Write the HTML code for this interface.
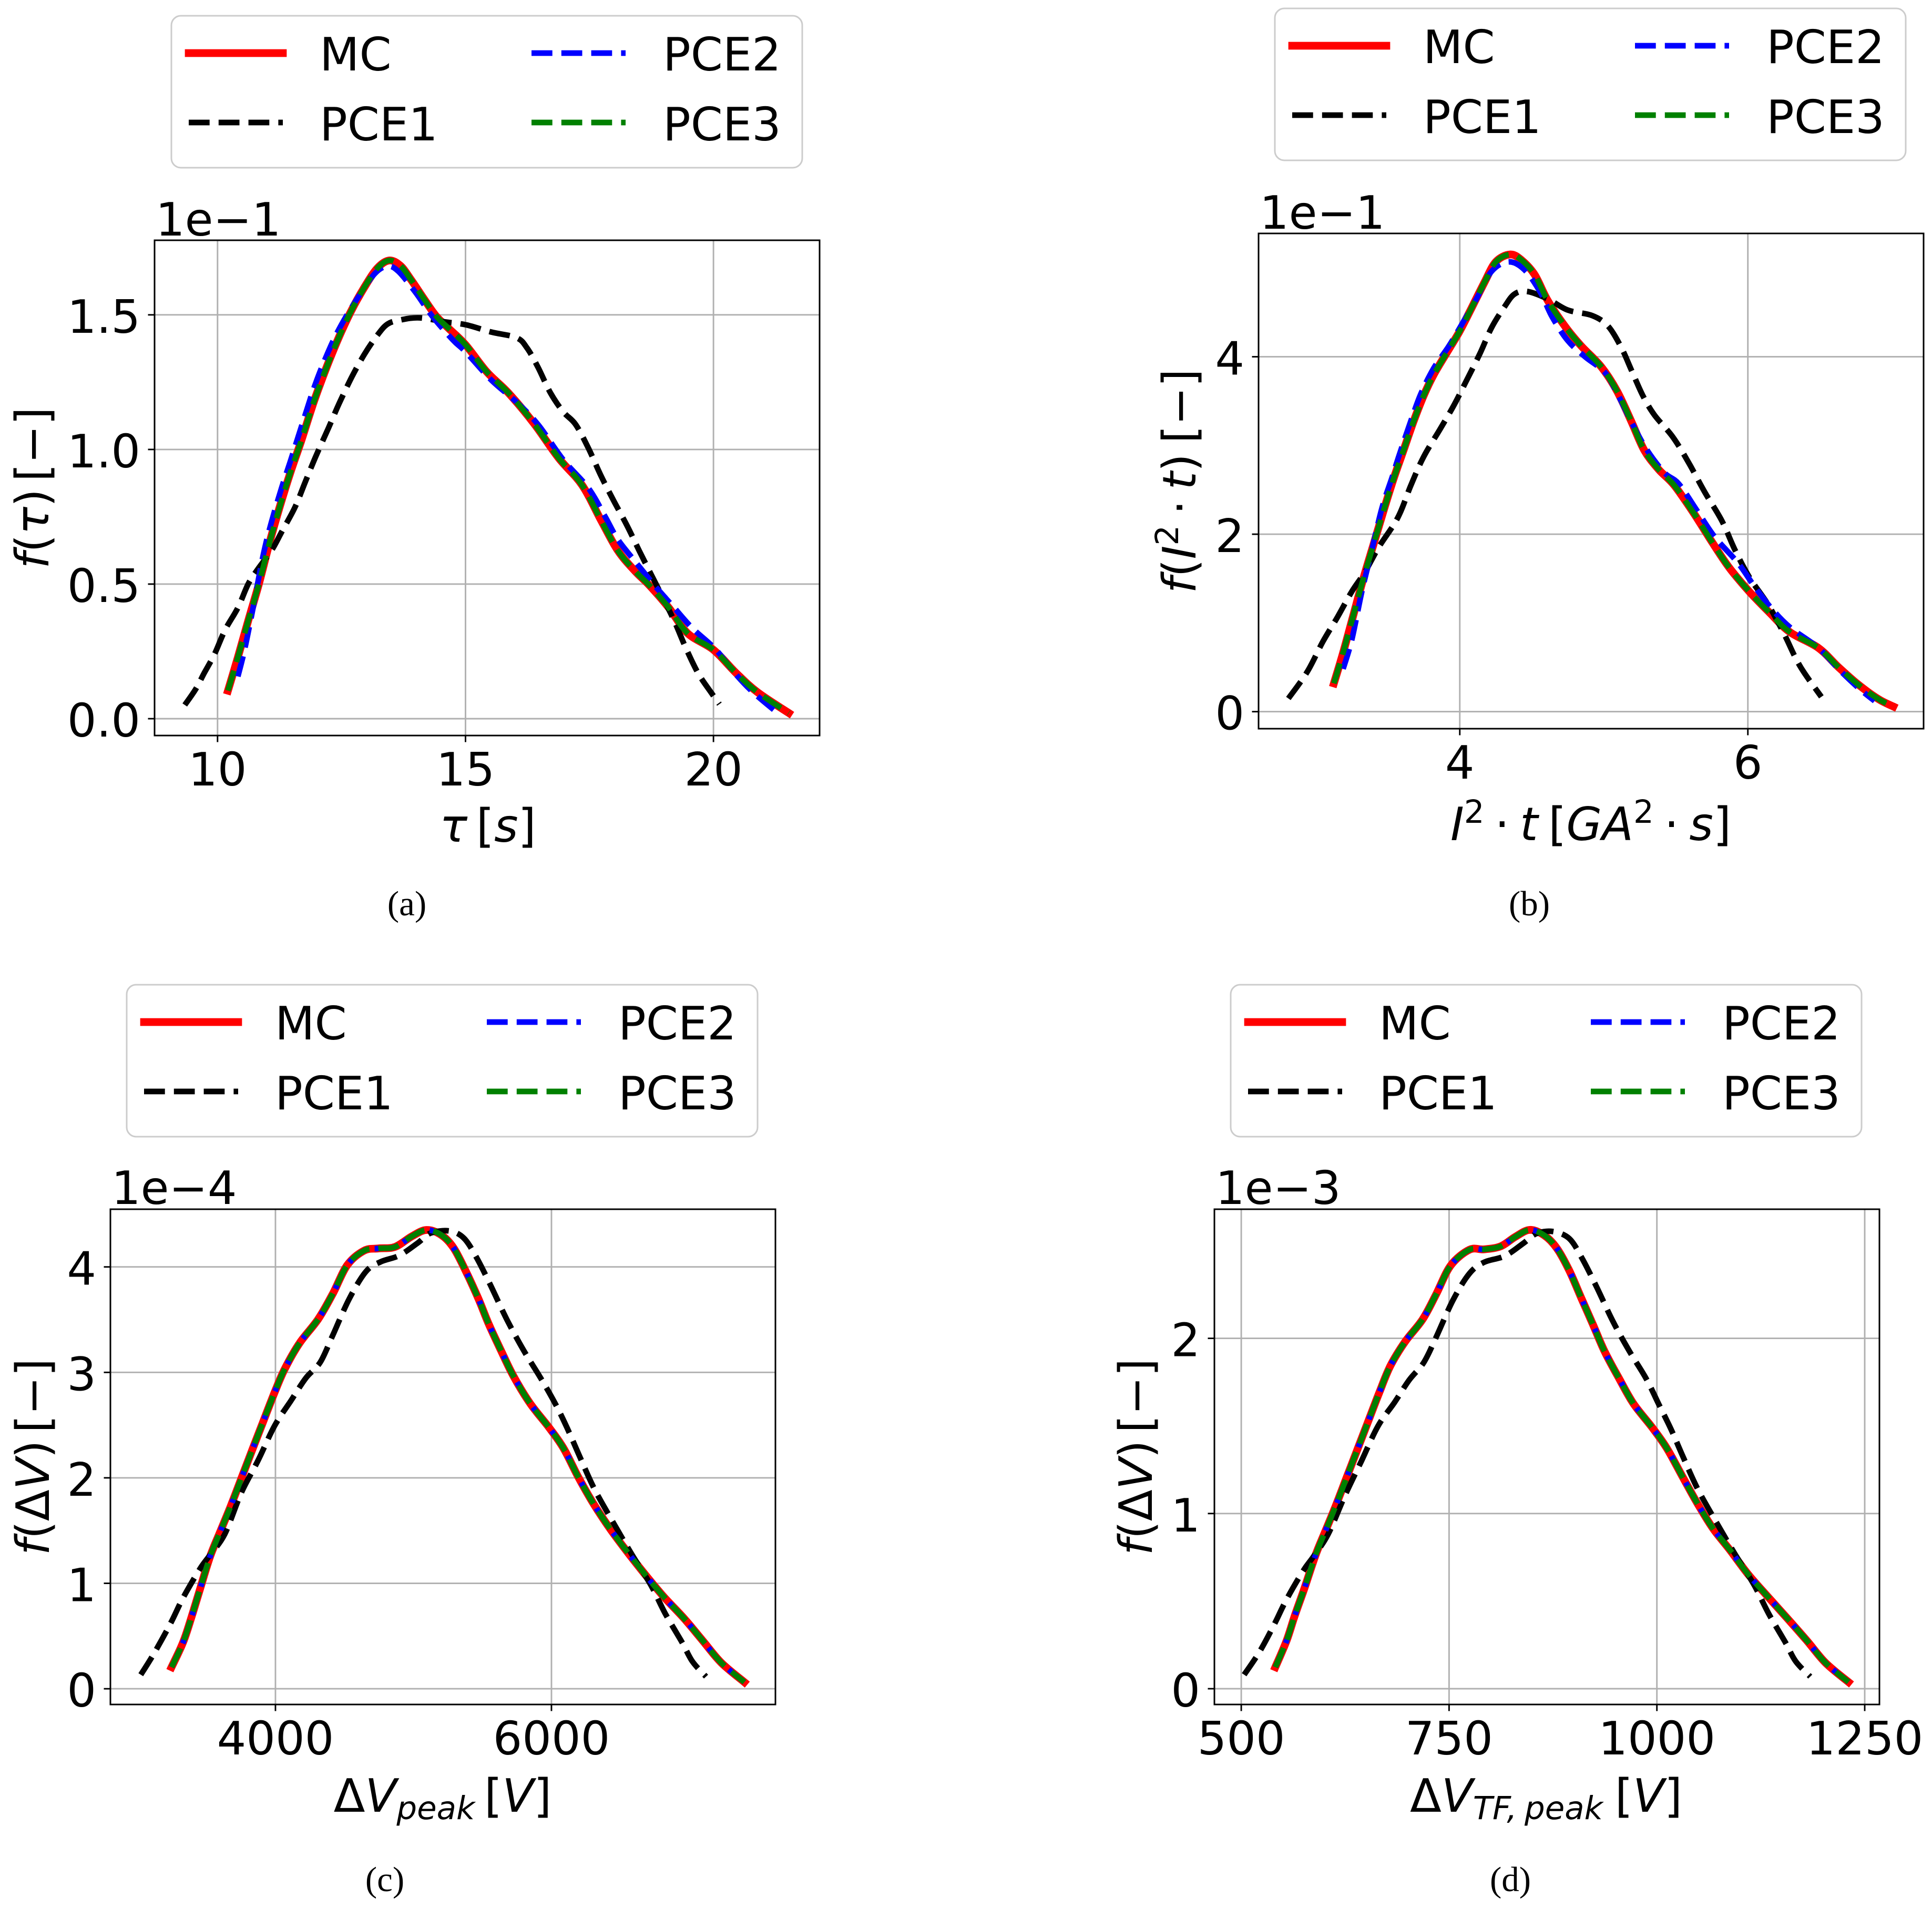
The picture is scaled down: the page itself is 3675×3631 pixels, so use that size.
<!DOCTYPE html>
<html lang="en">
<head>
<meta charset="utf-8">
<title>PDF comparison of MC and PCE surrogates</title>
<style>
html,body{margin:0;padding:0;background:#fff;}
svg{display:block;}
text{font-family:"DejaVu Sans","Liberation Sans",sans-serif;font-size:87.5px;fill:#000;}
.it{font-style:italic;}
.cap{font-family:"Liberation Serif",serif;font-size:67px;}
.frame{fill:#fff;stroke:#ccc;stroke-width:3;}
.hmc{stroke:#f00;stroke-width:14.7;stroke-linecap:square;fill:none;}
.hd{stroke-width:10.7;stroke-dasharray:39.7 17.1;fill:none;}
</style>
</head>
<body>
<svg id="fig" xmlns="http://www.w3.org/2000/svg" width="3675" height="3631" viewBox="0 0 3675 3631">
<rect width="3675" height="3631" fill="#fff"/>

<g id="panel-a">
  <g transform="translate(326,30)">
    <rect class="frame" x="0" y="0" width="1200" height="289" rx="18"/>
    <line class="hmc" x1="33" x2="212" y1="71" y2="71"/>
    <text x="282" y="104">MC</text>
    <line class="hd" stroke="#000" x1="33" x2="212" y1="203" y2="203"/>
    <text x="282" y="237">PCE1</text>
    <line class="hd" stroke="#00f" x1="685" x2="864" y1="71" y2="71"/>
    <text x="935" y="104">PCE2</text>
    <line class="hd" stroke="#008000" x1="685" x2="864" y1="203" y2="203"/>
    <text x="935" y="237">PCE3</text>
  </g>
  <text x="296" y="448">1e−1</text>
  <text x="928" y="1601" text-anchor="middle" style="word-spacing:-11px"><tspan class="it">τ</tspan> [<tspan class="it">s</tspan>]</text>
  <text transform="translate(92,928) rotate(-90)" text-anchor="middle" style="word-spacing:-14px"><tspan class="it">f</tspan>(<tspan class="it">τ</tspan>) [−]</text>
  <text class="cap" x="774" y="1741" text-anchor="middle">(a)</text>
</g>

<g id="panel-b">
  <g transform="translate(2425,16)">
    <rect class="frame" x="0" y="0" width="1200" height="289" rx="18"/>
    <line class="hmc" x1="33" x2="212" y1="71" y2="71"/>
    <text x="282" y="104">MC</text>
    <line class="hd" stroke="#000" x1="33" x2="212" y1="203" y2="203"/>
    <text x="282" y="237">PCE1</text>
    <line class="hd" stroke="#00f" x1="685" x2="864" y1="71" y2="71"/>
    <text x="935" y="104">PCE2</text>
    <line class="hd" stroke="#008000" x1="685" x2="864" y1="203" y2="203"/>
    <text x="935" y="237">PCE3</text>
  </g>
  <text x="2396" y="435">1e−1</text>
  <text x="3026" y="1598" text-anchor="middle" style="word-spacing:-8px"><tspan class="it">I</tspan><tspan dy="-33" style="font-size:61px">2</tspan><tspan dy="33"> · </tspan><tspan class="it">t</tspan> [<tspan class="it">GA</tspan><tspan dy="-33" style="font-size:61px">2</tspan><tspan dy="33"> · </tspan><tspan class="it">s</tspan>]</text>
  <text transform="translate(2274,915) rotate(-90)" text-anchor="middle" style="word-spacing:-8px"><tspan class="it">f</tspan>(<tspan class="it">I</tspan><tspan dy="-33" style="font-size:61px">2</tspan><tspan dy="33"> · </tspan><tspan class="it">t</tspan>) [−]</text>
  <text class="cap" x="2909" y="1741" text-anchor="middle">(b)</text>
</g>

<g id="panel-c">
  <g transform="translate(241,1873)">
    <rect class="frame" x="0" y="0" width="1200" height="289" rx="18"/>
    <line class="hmc" x1="33" x2="212" y1="71" y2="71"/>
    <text x="282" y="104">MC</text>
    <line class="hd" stroke="#000" x1="33" x2="212" y1="203" y2="203"/>
    <text x="282" y="237">PCE1</text>
    <line class="hd" stroke="#00f" x1="685" x2="864" y1="71" y2="71"/>
    <text x="935" y="104">PCE2</text>
    <line class="hd" stroke="#008000" x1="685" x2="864" y1="203" y2="203"/>
    <text x="935" y="237">PCE3</text>
  </g>
  <text x="212" y="2290">1e−4</text>
  <text x="842" y="3446" text-anchor="middle" style="word-spacing:-10px">Δ<tspan class="it">V</tspan><tspan class="it" dy="14" style="font-size:61px">peak</tspan><tspan dy="-14"> [</tspan><tspan class="it">V</tspan>]</text>
  <text transform="translate(93,2771) rotate(-90)" text-anchor="middle" style="word-spacing:-14px"><tspan class="it">f</tspan>(Δ<tspan class="it">V</tspan>) [−]</text>
  <text class="cap" x="732" y="3597" text-anchor="middle">(c)</text>
</g>

<g id="panel-d">
  <g transform="translate(2341,1873)">
    <rect class="frame" x="0" y="0" width="1200" height="289" rx="18"/>
    <line class="hmc" x1="33" x2="212" y1="71" y2="71"/>
    <text x="282" y="104">MC</text>
    <line class="hd" stroke="#000" x1="33" x2="212" y1="203" y2="203"/>
    <text x="282" y="237">PCE1</text>
    <line class="hd" stroke="#00f" x1="685" x2="864" y1="71" y2="71"/>
    <text x="935" y="104">PCE2</text>
    <line class="hd" stroke="#008000" x1="685" x2="864" y1="203" y2="203"/>
    <text x="935" y="237">PCE3</text>
  </g>
  <text x="2312" y="2290">1e−3</text>
  <text x="2941" y="3446" text-anchor="middle" style="word-spacing:-5px">Δ<tspan class="it">V</tspan><tspan class="it" dy="14" style="font-size:61px">TF, peak</tspan><tspan dy="-14"> [</tspan><tspan class="it">V</tspan>]</text>
  <text transform="translate(2191,2771) rotate(-90)" text-anchor="middle" style="word-spacing:-14px"><tspan class="it">f</tspan>(Δ<tspan class="it">V</tspan>) [−]</text>
  <text class="cap" x="2873" y="3597" text-anchor="middle">(d)</text>
</g>
</svg>

<script>
/* ---------- Panel (a): tau [s], f(tau) in units of 1e-1 ---------- */
const aXTicks = [10, 15, 20];
const aXTickLabels = ['10', '15', '20'];
const aYTicks = [0, 0.5, 1, 1.5];
const aYTickLabels = ['0.0', '0.5', '1.0', '1.5'];
const aXLim = [8.73, 22.14];
const aYLim = [-0.0625, 1.777];
const aMcX = [10.21,10.41,10.62,10.83,11.05,11.26,11.47,11.69,11.94,12.20,12.45,12.69,12.96,13.22,13.46,13.69,13.90,14.16,14.41,14.67,15.00,15.43,15.86,16.37,16.88,17.35,17.73,18.07,18.42,18.71,19.10,19.48,20.00,20.46,20.89,21.52];
const aMcY = [0.104,0.228,0.365,0.498,0.655,0.791,0.915,1.033,1.176,1.306,1.418,1.513,1.602,1.673,1.702,1.682,1.631,1.560,1.495,1.448,1.389,1.288,1.211,1.099,0.968,0.868,0.738,0.625,0.548,0.495,0.412,0.317,0.256,0.169,0.098,0.021];
const aPce1X = [9.34,9.56,9.73,9.94,10.15,10.41,10.62,10.83,11.09,11.30,11.56,11.77,11.98,12.24,12.45,12.71,12.96,13.22,13.43,13.69,14.07,14.58,15.01,15.52,16.03,16.24,16.46,16.71,16.97,17.22,17.48,17.73,17.99,18.25,18.50,18.71,18.97,19.22,19.44,19.69,19.95,20.12];
const aPce1Y = [0.051,0.110,0.169,0.240,0.329,0.412,0.501,0.560,0.625,0.696,0.785,0.880,0.974,1.081,1.170,1.270,1.353,1.424,1.466,1.481,1.489,1.474,1.463,1.436,1.415,1.377,1.306,1.211,1.140,1.093,1.004,0.903,0.809,0.720,0.625,0.548,0.453,0.359,0.264,0.169,0.098,0.054];
const aPce2X = [10.41,10.54,10.71,10.92,11.09,11.30,11.47,11.73,11.98,12.28,12.54,12.88,13.18,13.43,13.65,13.99,14.33,14.75,15.00,15.52,16.03,16.46,16.97,17.48,17.82,18.07,18.42,18.84,19.18,19.57,20.04,20.46,20.80,21.27];
const aPce2Y = [0.157,0.252,0.406,0.607,0.732,0.862,0.957,1.107,1.247,1.383,1.477,1.578,1.655,1.681,1.661,1.584,1.495,1.406,1.363,1.258,1.176,1.093,0.962,0.856,0.749,0.666,0.584,0.489,0.418,0.337,0.258,0.163,0.098,0.025];
const aPce3X = [10.21,10.41,10.62,10.83,11.05,11.26,11.47,11.69,11.94,12.20,12.45,12.69,12.96,13.22,13.46,13.69,13.90,14.16,14.41,14.67,15.00,15.43,15.86,16.37,16.88,17.35,17.73,18.07,18.42,18.71,19.10,19.48,20.00,20.46,20.89,21.52];
const aPce3Y = [0.104,0.228,0.365,0.498,0.655,0.791,0.915,1.033,1.176,1.306,1.418,1.513,1.602,1.673,1.702,1.682,1.631,1.560,1.495,1.448,1.389,1.288,1.211,1.099,0.968,0.868,0.738,0.625,0.548,0.495,0.412,0.317,0.256,0.169,0.098,0.021];

/* ---------- Panel (b): I^2 t [GA^2 s], density in units of 1e-1 ---------- */
const bXTicks = [4, 6];
const bXTickLabels = ['4', '6'];
const bYTicks = [0, 2, 4];
const bYTickLabels = ['0', '2', '4'];
const bXLim = [2.603, 7.22];
const bYLim = [-0.192, 5.39];
const bMcX = [3.126,3.19,3.26,3.33,3.40,3.47,3.54,3.61,3.68,3.75,3.82,3.92,4.00,4.08,4.17,4.25,4.35,4.43,4.52,4.61,4.73,4.84,4.98,5.09,5.19,5.28,5.38,5.49,5.63,5.75,5.87,6.01,6.15,6.29,6.49,6.63,6.77,6.91,7.01];
const bMcY = [0.319,0.664,1.081,1.498,1.879,2.259,2.622,2.948,3.275,3.565,3.801,4.073,4.290,4.544,4.834,5.070,5.153,5.088,4.925,4.635,4.344,4.127,3.891,3.619,3.275,2.948,2.731,2.549,2.223,1.915,1.625,1.353,1.117,0.899,0.718,0.500,0.301,0.138,0.058];
const bPce1X = [2.81,2.94,3.05,3.15,3.25,3.34,3.44,3.57,3.66,3.75,3.87,3.96,4.04,4.14,4.22,4.31,4.38,4.47,4.61,4.75,4.92,5.03,5.12,5.19,5.27,5.35,5.48,5.59,5.70,5.82,5.91,6.01,6.14,6.25,6.36,6.51];
const bPce1Y = [0.149,0.446,0.791,1.063,1.353,1.570,1.860,2.187,2.549,2.876,3.202,3.456,3.710,4.036,4.326,4.562,4.707,4.736,4.653,4.526,4.464,4.344,4.109,3.855,3.565,3.347,3.093,2.803,2.477,2.150,1.824,1.516,1.208,0.881,0.519,0.167];
const bPce2X = [3.19,3.25,3.32,3.39,3.46,3.53,3.58,3.66,3.73,3.82,3.92,4.00,4.11,4.22,4.34,4.45,4.56,4.64,4.75,4.87,5.01,5.10,5.20,5.30,5.42,5.52,5.65,5.77,5.93,6.04,6.16,6.29,6.49,6.64,6.77,6.88];
const bPce2Y = [0.482,0.809,1.353,1.824,2.296,2.640,2.894,3.275,3.583,3.873,4.109,4.326,4.635,4.961,5.070,4.979,4.725,4.453,4.181,4.000,3.819,3.565,3.238,2.948,2.694,2.568,2.259,1.969,1.679,1.425,1.171,0.954,0.718,0.464,0.265,0.120];
const bPce3X = [3.126,3.19,3.26,3.33,3.40,3.47,3.54,3.61,3.68,3.75,3.82,3.92,4.00,4.08,4.17,4.25,4.35,4.43,4.52,4.61,4.73,4.84,4.98,5.09,5.19,5.28,5.38,5.49,5.63,5.75,5.87,6.01,6.15,6.29,6.49,6.63,6.77,6.91,7.01];
const bPce3Y = [0.319,0.664,1.081,1.498,1.879,2.259,2.622,2.948,3.275,3.565,3.801,4.073,4.290,4.544,4.834,5.070,5.153,5.088,4.925,4.635,4.344,4.127,3.891,3.619,3.275,2.948,2.731,2.549,2.223,1.915,1.625,1.353,1.117,0.899,0.718,0.500,0.301,0.138,0.058];

/* ---------- Panel (c): peak voltage [V], density in units of 1e-4 ---------- */
const cXTicks = [4000, 6000];
const cXTickLabels = ['4000', '6000'];
const cYTicks = [0, 1, 2, 3, 4];
const cYTickLabels = ['0', '1', '2', '3', '4'];
const cXLim = [2804, 7623];
const cYLim = [-0.149, 4.547];
const cMcX = [3247,3331,3392,3452,3527,3602,3678,3753,3828,3904,3994,4069,4175,4310,4416,4521,4642,4747,4867,4988,5093,5199,5289,5380,5470,5545,5636,5726,5846,5982,6087,6193,6298,6419,6539,6675,6810,6961,7096,7232,7398];
const cMcY = [0.205,0.441,0.682,0.939,1.256,1.497,1.739,1.995,2.252,2.509,2.811,3.037,3.278,3.505,3.747,4.018,4.154,4.175,4.190,4.290,4.350,4.305,4.184,3.958,3.701,3.460,3.203,2.962,2.705,2.478,2.282,2.011,1.769,1.528,1.316,1.090,0.878,0.667,0.456,0.245,0.063];
const cPce1X = [3024,3120,3241,3331,3452,3527,3633,3753,3873,3994,4114,4220,4325,4416,4536,4657,4762,4898,5033,5123,5259,5364,5455,5560,5681,5801,5922,6027,6117,6208,6313,6449,6584,6720,6825,6946,7021,7120];
const cPce1Y = [0.133,0.335,0.622,0.863,1.135,1.271,1.467,1.860,2.162,2.494,2.735,2.946,3.097,3.354,3.701,3.958,4.048,4.109,4.229,4.320,4.341,4.275,4.094,3.822,3.490,3.203,2.946,2.705,2.463,2.192,1.890,1.573,1.271,0.984,0.712,0.441,0.260,0.115];
const cPce2X = [3247,3331,3392,3452,3527,3602,3678,3753,3828,3904,3994,4069,4175,4310,4416,4521,4642,4747,4867,4988,5093,5199,5289,5380,5470,5545,5636,5726,5846,5982,6087,6193,6298,6419,6539,6675,6810,6961,7096,7232,7398];
const cPce2Y = [0.205,0.441,0.682,0.939,1.256,1.497,1.739,1.995,2.252,2.509,2.811,3.037,3.278,3.505,3.747,4.018,4.154,4.175,4.190,4.290,4.350,4.305,4.184,3.958,3.701,3.460,3.203,2.962,2.705,2.478,2.282,2.011,1.769,1.528,1.316,1.090,0.878,0.667,0.456,0.245,0.063];
const cPce3X = [3247,3331,3392,3452,3527,3602,3678,3753,3828,3904,3994,4069,4175,4310,4416,4521,4642,4747,4867,4988,5093,5199,5289,5380,5470,5545,5636,5726,5846,5982,6087,6193,6298,6419,6539,6675,6810,6961,7096,7232,7398];
const cPce3Y = [0.205,0.441,0.682,0.939,1.256,1.497,1.739,1.995,2.252,2.509,2.811,3.037,3.278,3.505,3.747,4.018,4.154,4.175,4.190,4.290,4.350,4.305,4.184,3.958,3.701,3.460,3.203,2.962,2.705,2.478,2.282,2.011,1.769,1.528,1.316,1.090,0.878,0.667,0.456,0.245,0.063];

/* ---------- Panel (d): TF peak voltage [V], density in units of 1e-3 ---------- */
const dXTicks = [500, 750, 1000, 1250];
const dXTickLabels = ['500', '750', '1000', '1250'];
const dYTicks = [0, 1, 2];
const dYTickLabels = ['0', '1', '2'];
const dXLim = [467.7, 1267.7];
const dYLim = [-0.09, 2.737];
const dMcX = [541,554.5,564.5,576,589.5,602,614.5,627,639.5,652,666,679.5,697,718,734.5,752,774.5,792,812,829.5,847,864.5,879.5,894.5,909.5,923,937,954.5,972,994.5,1012,1031,1048,1067,1088,1109.5,1133,1157,1180.5,1203,1230.5];
const dMcY = [0.123,0.274,0.419,0.573,0.764,0.909,1.054,1.209,1.363,1.517,1.690,1.844,1.980,2.107,2.252,2.416,2.506,2.508,2.525,2.579,2.619,2.588,2.515,2.388,2.225,2.080,1.926,1.771,1.626,1.490,1.372,1.209,1.064,0.918,0.791,0.655,0.528,0.401,0.274,0.147,0.038];
const dPce1X = [503.5,522,539.5,554.5,574.5,587,604.5,624.5,644.5,664.5,684.5,702,719.5,734.5,754.5,774.5,792,817,839.5,854.5,874.5,894.5,909.5,927,947,967,987,1002,1017,1032,1049.5,1072,1094.5,1117,1134.5,1154.5,1167,1184.5];
const dPce1Y = [0.080,0.211,0.365,0.510,0.673,0.755,0.882,1.100,1.299,1.499,1.635,1.762,1.862,2.007,2.216,2.370,2.434,2.470,2.543,2.597,2.610,2.570,2.461,2.298,2.098,1.926,1.771,1.626,1.481,1.318,1.136,0.946,0.764,0.592,0.428,0.265,0.156,0.069];
const dPce2X = [541,554.5,564.5,576,589.5,602,614.5,627,639.5,652,666,679.5,697,718,734.5,752,774.5,792,812,829.5,847,864.5,879.5,894.5,909.5,923,937,954.5,972,994.5,1012,1031,1048,1067,1088,1109.5,1133,1157,1180.5,1203,1230.5];
const dPce2Y = [0.123,0.274,0.419,0.573,0.764,0.909,1.054,1.209,1.363,1.517,1.690,1.844,1.980,2.107,2.252,2.416,2.506,2.508,2.525,2.579,2.619,2.588,2.515,2.388,2.225,2.080,1.926,1.771,1.626,1.490,1.372,1.209,1.064,0.918,0.791,0.655,0.528,0.401,0.274,0.147,0.038];
const dPce3X = [541,554.5,564.5,576,589.5,602,614.5,627,639.5,652,666,679.5,697,718,734.5,752,774.5,792,812,829.5,847,864.5,879.5,894.5,909.5,923,937,954.5,972,994.5,1012,1031,1048,1067,1088,1109.5,1133,1157,1180.5,1203,1230.5];
const dPce3Y = [0.123,0.274,0.419,0.573,0.764,0.909,1.054,1.209,1.363,1.517,1.690,1.844,1.980,2.107,2.252,2.416,2.506,2.508,2.525,2.579,2.619,2.588,2.515,2.388,2.225,2.080,1.926,1.771,1.626,1.490,1.372,1.209,1.064,0.918,0.791,0.655,0.528,0.401,0.274,0.147,0.038];

const SVGNS = 'http://www.w3.org/2000/svg';
const AXES_W = 1265;
const AXES_H = 942;

function linearScale(domain, r0, r1) {
  return function (v) {
    return r0 + (v - domain[0]) * (r1 - r0) / (domain[1] - domain[0]);
  };
}

function smoothPath(xs, ys, sx, sy) {
  const p = xs.map(function (x, i) { return [sx(x), sy(ys[i])]; });
  let d = 'M' + p[0][0].toFixed(1) + ' ' + p[0][1].toFixed(1);
  for (let i = 0; i < p.length - 1; i++) {
    const a = p[Math.max(0, i - 1)];
    const b = p[i];
    const c = p[i + 1];
    const e = p[Math.min(p.length - 1, i + 2)];
    const c1x = b[0] + (c[0] - a[0]) / 6;
    const c1y = b[1] + (c[1] - a[1]) / 6;
    const c2x = c[0] - (e[0] - b[0]) / 6;
    const c2y = c[1] - (e[1] - b[1]) / 6;
    d += 'C' + c1x.toFixed(1) + ' ' + c1y.toFixed(1) + ' ' + c2x.toFixed(1) + ' ' + c2y.toFixed(1) + ' ' + c[0].toFixed(1) + ' ' + c[1].toFixed(1);
  }
  return d;
}

function addLine(parent, x1, y1, x2, y2, color, width, name) {
  const el = document.createElementNS(SVGNS, 'line');
  el.setAttribute('x1', x1);
  el.setAttribute('y1', y1);
  el.setAttribute('x2', x2);
  el.setAttribute('y2', y2);
  el.setAttribute('stroke', color);
  el.setAttribute('stroke-width', width);
  
  
  parent.appendChild(el);
}

function addLabel(parent, x, y, anchor, str, name) {
  const el = document.createElementNS(SVGNS, 'text');
  el.setAttribute('x', x);
  el.setAttribute('y', y);
  el.setAttribute('text-anchor', anchor);
  el.textContent = str;
  
  
  parent.appendChild(el);
}

function addSeries(parent, xs, ys, sx, sy, color, width, dashed, offset, name) {
  const el = document.createElementNS(SVGNS, 'path');
  el.setAttribute('d', smoothPath(xs, ys, sx, sy));
  el.setAttribute('fill', 'none');
  el.setAttribute('stroke', color);
  el.setAttribute('stroke-width', width);
  el.setAttribute('stroke-linejoin', 'round');
  if (dashed) {
    el.setAttribute('stroke-dasharray', '39.7 17.1');
    el.setAttribute('stroke-dashoffset', offset);
  } else {
    el.setAttribute('stroke-linecap', 'square');
  }
  
  
  parent.appendChild(el);
}

function drawPanel(id, left, top, xLim, yLim, xTicks, xTickLabels, yTicks, yTickLabels, mcX, mcY, p1X, p1Y, p2X, p2Y, p3X, p3Y, blueOffset) {
  const host = document.getElementById(id);
  const right = left + AXES_W;
  const bottom = top + AXES_H;
  const sx = linearScale(xLim, left, right);
  const sy = linearScale(yLim, bottom, top);

  const g = document.createElementNS(SVGNS, 'g');
  
  
  host.appendChild(g);

  const bg = document.createElementNS(SVGNS, 'rect');
  bg.setAttribute('x', left);
  bg.setAttribute('y', top);
  bg.setAttribute('width', AXES_W);
  bg.setAttribute('height', AXES_H);
  bg.setAttribute('fill', '#fff');
  
  
  g.appendChild(bg);

  xTicks.forEach(function (t, i) {
    const x = sx(t);
    addLine(g, x, top, x, bottom, '#b0b0b0', 2.9, 'x-gridline');
    addLine(g, x, bottom, x, bottom + 12.5, '#000', 2.9, 'x-tick');
    addLabel(g, x, bottom + 95, 'middle', xTickLabels[i], 'x-tick-label');
  });
  yTicks.forEach(function (t, i) {
    const y = sy(t);
    addLine(g, left, y, right, y, '#b0b0b0', 2.9, 'y-gridline');
    addLine(g, left - 12.5, y, left, y, '#000', 2.9, 'y-tick');
    addLabel(g, left - 27, y + 34, 'end', yTickLabels[i], 'y-tick-label');
  });

  addSeries(g, mcX, mcY, sx, sy, '#f00', 14.7, false, 0, 'series-mc');
  addSeries(g, p1X, p1Y, sx, sy, '#000', 10.7, true, 0, 'series-pce1');
  addSeries(g, p2X, p2Y, sx, sy, '#00f', 10.7, true, blueOffset, 'series-pce2');
  addSeries(g, p3X, p3Y, sx, sy, '#008000', 10.7, true, 0, 'series-pce3');

  const box = document.createElementNS(SVGNS, 'rect');
  box.setAttribute('x', left);
  box.setAttribute('y', top);
  box.setAttribute('width', AXES_W);
  box.setAttribute('height', AXES_H);
  box.setAttribute('fill', 'none');
  box.setAttribute('stroke', '#000');
  box.setAttribute('stroke-width', 3);
  
  
  g.appendChild(box);
}

drawPanel('panel-a', 294, 457, aXLim, aYLim, aXTicks, aXTickLabels, aYTicks, aYTickLabels, aMcX, aMcY, aPce1X, aPce1Y, aPce2X, aPce2Y, aPce3X, aPce3Y, 0);
drawPanel('panel-b', 2394, 444, bXLim, bYLim, bXTicks, bXTickLabels, bYTicks, bYTickLabels, bMcX, bMcY, bPce1X, bPce1Y, bPce2X, bPce2Y, bPce3X, bPce3Y, 0);
drawPanel('panel-c', 210, 2300, cXLim, cYLim, cXTicks, cXTickLabels, cYTicks, cYTickLabels, cMcX, cMcY, cPce1X, cPce1Y, cPce2X, cPce2Y, cPce3X, cPce3Y, 7);
drawPanel('panel-d', 2310, 2300, dXLim, dYLim, dXTicks, dXTickLabels, dYTicks, dYTickLabels, dMcX, dMcY, dPce1X, dPce1Y, dPce2X, dPce2Y, dPce3X, dPce3Y, 7);
</script>
</body>
</html>
